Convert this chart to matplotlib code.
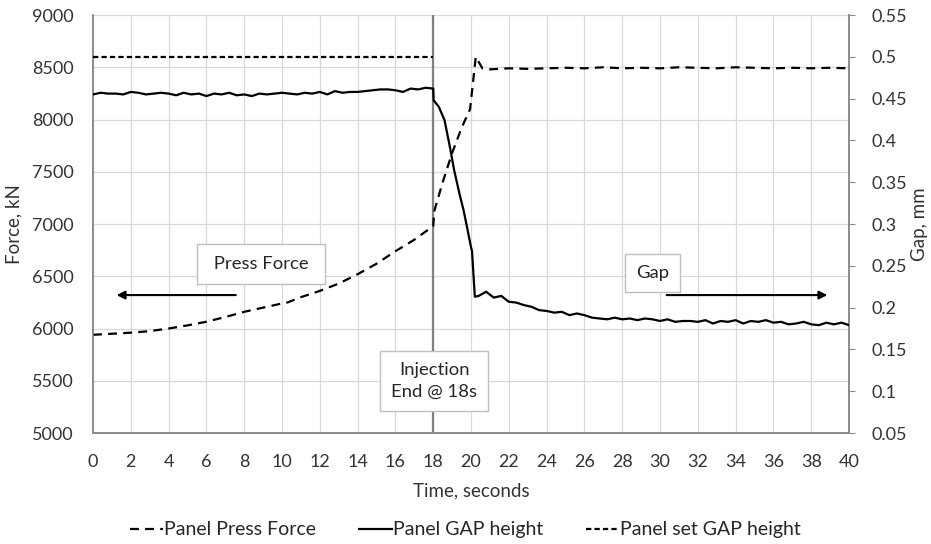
import matplotlib.pyplot as plt
import matplotlib.ticker as mticker

plt.rcParams["font.family"] = ["Lato", "DejaVu Sans"]

# Panel Press Force, kN (left axis)
force_t = [0, 1, 2, 3, 4, 5, 6, 7, 8, 9, 10, 10.3, 11, 12, 13, 14, 15, 16, 17, 18,
           18.05, 18.5, 19.0, 19.5, 19.95, 20.25, 20.6,
           21, 22, 23, 24, 25, 26, 27, 28, 29, 30, 31, 32, 33, 34, 35, 36, 37, 38, 39, 40]
force_kn = [5940, 5950, 5960, 5975, 6000, 6030, 6065, 6110, 6160, 6200, 6240, 6250, 6300, 6360,
            6430, 6520, 6620, 6740, 6850, 6980,
            7120, 7400, 7680, 7920, 8100, 8600, 8490,
            8480, 8490, 8485, 8490, 8495, 8490, 8500, 8490, 8495, 8490, 8500, 8495, 8490, 8500,
            8495, 8490, 8495, 8490, 8495, 8490]

# Panel GAP height, mm (right axis)
gap_t = [0.0, 0.4, 0.8, 1.2, 1.6, 2.0, 2.4, 2.8, 3.2, 3.6, 4.0, 4.4, 4.8, 5.2, 5.6, 6.0,
         6.4, 6.8, 7.2, 7.6, 8.0, 8.4, 8.8, 9.2, 9.6, 10.0, 10.4, 10.8, 11.2, 11.6, 12.0,
         12.4, 12.8, 13.2, 13.6, 14.0, 14.4, 14.8, 15.2, 15.6, 16.0, 16.4, 16.8, 17.2, 17.6, 18.0,
         18.02, 18.3, 18.6, 18.9, 19.1, 19.4, 19.6, 19.8, 20.0, 20.05, 20.2,
         20.4, 20.8, 21.2, 21.6, 22.0, 22.4, 22.8, 23.2, 23.6, 24.0, 24.4, 24.8, 25.2, 25.6,
         26.0, 26.4, 26.8, 27.2, 27.6, 28.0, 28.4, 28.8, 29.2, 29.6, 30.0, 30.4, 30.8, 31.2,
         31.6, 32.0, 32.4, 32.8, 33.2, 33.6, 34.0, 34.4, 34.8, 35.2, 35.6, 36.0, 36.4, 36.8,
         37.2, 37.6, 38.0, 38.4, 38.8, 39.2, 39.6, 40.0]
gap_mm = [0.455, 0.457, 0.456, 0.456, 0.455, 0.458, 0.457, 0.455, 0.456, 0.457, 0.456, 0.454,
          0.457, 0.455, 0.456, 0.453, 0.456, 0.455, 0.457, 0.454, 0.455, 0.453, 0.456, 0.455,
          0.456, 0.457, 0.456, 0.455, 0.457, 0.456, 0.458, 0.455, 0.459, 0.457, 0.458, 0.458,
          0.459, 0.460, 0.461, 0.461, 0.460, 0.458, 0.462, 0.461, 0.463, 0.462,
          0.448, 0.440, 0.424, 0.390, 0.365, 0.335, 0.317, 0.295, 0.272, 0.268, 0.213,
          0.214, 0.219, 0.212, 0.214, 0.207, 0.206, 0.203, 0.201, 0.197, 0.196, 0.194, 0.195,
          0.191, 0.193, 0.191, 0.188, 0.187, 0.186, 0.188, 0.186, 0.187, 0.185, 0.187, 0.186,
          0.184, 0.186, 0.183, 0.184, 0.184, 0.183, 0.185, 0.181, 0.184, 0.183, 0.185, 0.181,
          0.184, 0.183, 0.185, 0.182, 0.183, 0.180, 0.181, 0.183, 0.180, 0.179, 0.182, 0.180,
          0.182, 0.179]

# Panel set GAP height, mm (right axis)
set_gap_t = [0, 18]
set_gap_mm = [0.5, 0.5]

injection_end = 18


def force_to_gap(f):
    # map a left-axis force value to the right-axis gap scale
    return 0.05 + (f - 5000) / 8000


fig, ax = plt.subplots(figsize=(9.31, 5.44), dpi=100)
fig.subplots_adjust(left=0.0999, right=0.912, top=0.9724, bottom=0.204)
ax2 = ax.twinx()

ax.set_xlim(0, 40)
ax.set_ylim(5000, 9000)
ax2.set_ylim(0.05, 0.55)
ax.set_xticks(range(0, 41, 2))
ax.set_yticks(range(5000, 9001, 500))
ax2.set_yticks([0.05 * i for i in range(1, 12)])
ax2.yaxis.set_major_formatter(mticker.FuncFormatter(lambda v, p: "%g" % round(v, 2)))

ax.grid(True, color="#D9D9D9", lw=0.9)
ax.set_axisbelow(True)
for a in (ax, ax2):
    a.spines["top"].set_visible(False)
    for s in ("left", "right", "bottom"):
        a.spines[s].set_color("#898989")
        a.spines[s].set_linewidth(1.1)
ax.tick_params(axis="y", labelsize=13, colors="#333333", length=0, pad=14)
ax.tick_params(axis="x", labelsize=13, colors="#333333", length=0, pad=15)
ax2.tick_params(axis="y", labelsize=13, colors="#333333", length=4, color="#898989", pad=12)

ax.axvline(injection_end, color="#808080", lw=1.6, zorder=1)

l1, = ax.plot(force_t, force_kn, color="black", lw=1.6, dashes=(4, 2.8), zorder=3,
              label="Panel Press Force")
l2, = ax2.plot(gap_t, gap_mm, color="black", lw=1.6, zorder=3, label="Panel GAP height")
l3, = ax2.plot(set_gap_t, set_gap_mm, color="black", lw=1.6, dashes=(2.4, 1.4), zorder=3,
               label="Panel set GAP height")

ax.set_xlabel("Time, seconds", fontsize=13.5, color="#333333", labelpad=9)
ax.set_ylabel("Force, kN", fontsize=13.5, color="#333333", labelpad=7)
ax2.set_ylabel("Gap, mm", fontsize=13.5, color="#333333", labelpad=3)

box = dict(boxstyle="square,pad=0.6", fc="white", ec="#BFBFBF", lw=1)
ax2.text(8.9, force_to_gap(6617), " Press Force ", fontsize=13.3, ha="center", va="center",
         bbox=dict(boxstyle="square,pad=0.65", fc="white", ec="#BFBFBF", lw=1), zorder=5,
         color="#262626")
ax2.text(29.6, force_to_gap(6531), "Gap", fontsize=13.3, ha="center", va="center", bbox=box,
         zorder=5, color="#262626")
ax2.text(18.05, force_to_gap(5498), "Injection\nEnd @ 18s", fontsize=13.3, ha="center",
         va="center", linespacing=1.5, bbox=box, zorder=5, color="#262626")

arrow = dict(arrowstyle="-|>", lw=1.5, color="black", mutation_scale=12)
ax.annotate("", xy=(1.1, 6320), xytext=(7.7, 6320), arrowprops=arrow, zorder=4)
ax.annotate("", xy=(39.0, 6320), xytext=(30.2, 6320), arrowprops=arrow, zorder=4)

fig.legend(handles=[l1, l2, l3], loc="lower center", ncol=3, frameon=False, fontsize=14,
           bbox_to_anchor=(0.5, -0.022), handlelength=1.7, handletextpad=0.05, columnspacing=2.2,
           labelcolor="#262626")

fig.savefig("out.png", dpi=100)
